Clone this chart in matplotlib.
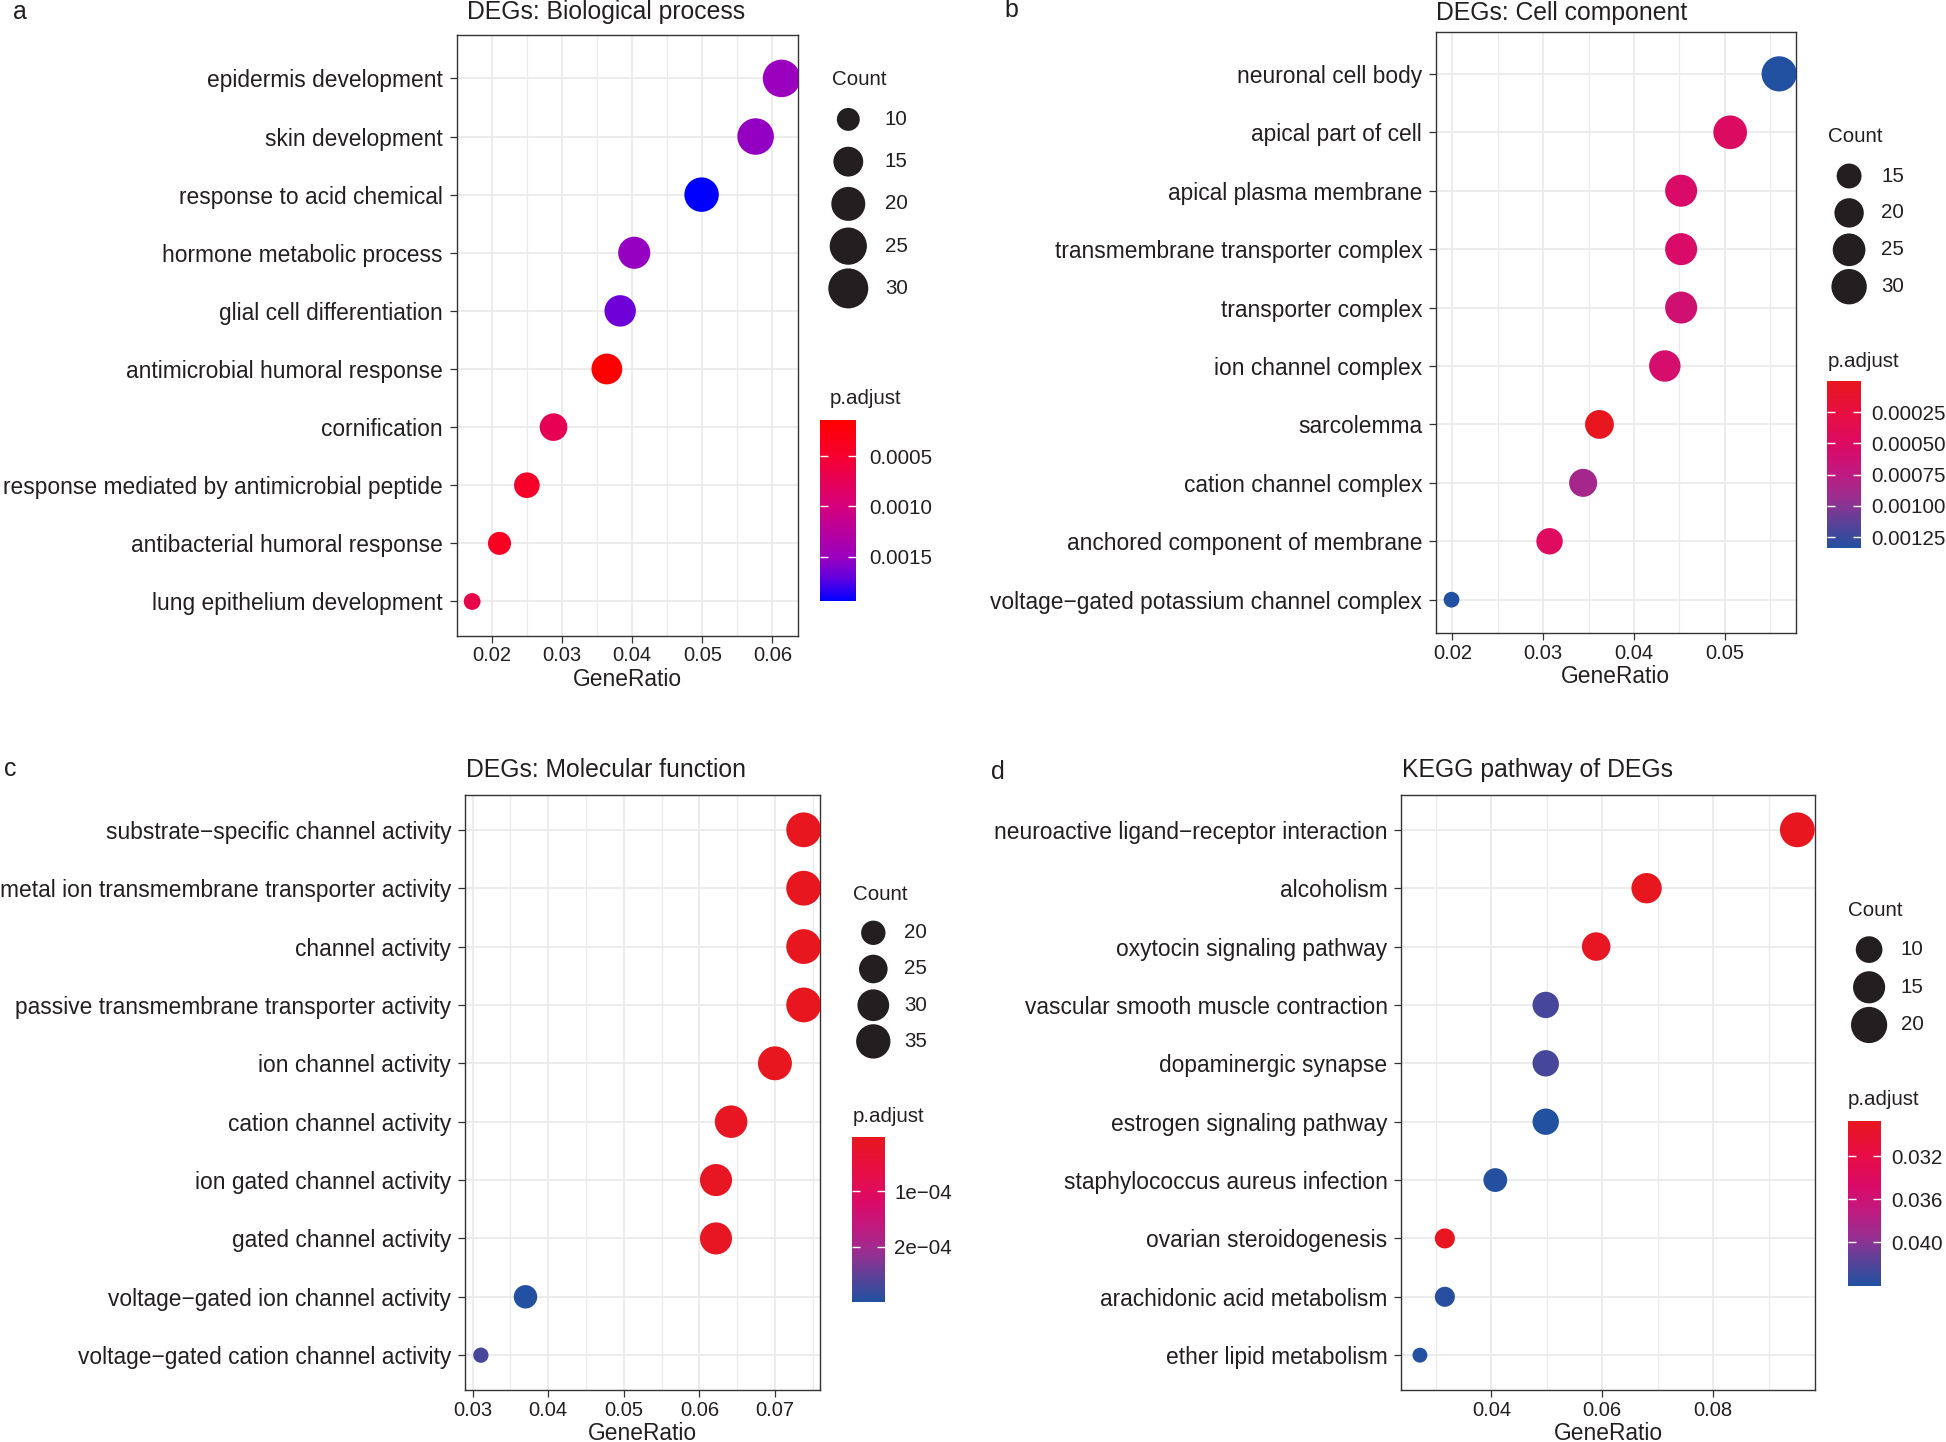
import numpy as np
import matplotlib
matplotlib.use("Agg")
import matplotlib.pyplot as plt
from matplotlib.colors import LinearSegmentedColormap, Normalize
from matplotlib.cm import ScalarMappable
from matplotlib.ticker import FormatStrFormatter

plt.rcParams['font.family'] = ['Liberation Sans', 'DejaVu Sans']

W, H, DPI = 1946, 1442, 100
INK = '#231F20'

# ---------------- data (terms listed top to bottom) ----------------
bp_terms = ["epidermis development", "skin development", "response to acid chemical",
            "hormone metabolic process", "glial cell differentiation",
            "antimicrobial humoral response", "cornification",
            "response mediated by antimicrobial peptide",
            "antibacterial humoral response", "lung epithelium development"]
bp_ratio = [0.0613, 0.0576, 0.0499, 0.0403, 0.0383, 0.0364, 0.0288, 0.0250, 0.0211, 0.0172]
bp_count = [31, 29, 25, 21, 20, 19, 15, 13, 11, 9]
bp_padj = [0.00151, 0.00153, 0.00194, 0.00152, 0.00167, 0.000138, 0.00073, 0.00046, 0.00040, 0.00068]

cc_terms = ["neuronal cell body", "apical part of cell", "apical plasma membrane",
            "transmembrane transporter complex", "transporter complex",
            "ion channel complex", "sarcolemma", "cation channel complex",
            "anchored component of membrane",
            "voltage\u2212gated potassium channel complex"]
cc_ratio = [0.0560, 0.0506, 0.0452, 0.0452, 0.0452, 0.0434, 0.0362, 0.0344, 0.0307, 0.0199]
cc_count = [31, 28, 25, 25, 25, 24, 20, 19, 17, 11]
cc_padj = [0.00134, 0.00049, 0.00054, 0.00054, 0.00061, 0.00058, 0.000003, 0.00087, 0.00047, 0.00133]

mf_terms = ["substrate\u2212specific channel activity",
            "metal ion transmembrane transporter activity", "channel activity",
            "passive transmembrane transporter activity", "ion channel activity",
            "cation channel activity", "ion gated channel activity",
            "gated channel activity", "voltage\u2212gated ion channel activity",
            "voltage\u2212gated cation channel activity"]
mf_ratio = [0.0738, 0.0738, 0.0738, 0.0738, 0.0700, 0.0642, 0.0622, 0.0622, 0.0370, 0.0311]
mf_count = [39, 39, 39, 39, 37, 34, 33, 33, 20, 16]
mf_padj = [2e-6, 2e-6, 2e-6, 2e-6, 4e-6, 8e-6, 9e-6, 9e-6, 3.0e-4, 2.7e-4]

kegg_terms = ["neuroactive ligand\u2212receptor interaction", "alcoholism",
              "oxytocin signaling pathway", "vascular smooth muscle contraction",
              "dopaminergic synapse", "estrogen signaling pathway",
              "staphylococcus aureus infection", "ovarian steroidogenesis",
              "arachidonic acid metabolism", "ether lipid metabolism"]
kegg_ratio = [0.0952, 0.0680, 0.0589, 0.0498, 0.0498, 0.0498, 0.0407, 0.0316, 0.0316, 0.0271]
kegg_count = [21, 15, 13, 11, 11, 11, 9, 7, 7, 6]
kegg_padj = [0.0287, 0.0288, 0.0290, 0.0425, 0.0425, 0.0439, 0.0438, 0.0289, 0.0437, 0.0440]

bp_breaks = [10, 15, 20, 25, 30]
cc_breaks = [15, 20, 25, 30]
mf_breaks = [20, 25, 30, 35]
kegg_breaks = [10, 15, 20]

bp_pticks = [0.0005, 0.0010, 0.0015]
bp_plabels = ["0.0005", "0.0010", "0.0015"]
cc_pticks = [0.00025, 0.00050, 0.00075, 0.00100, 0.00125]
cc_plabels = ["0.00025", "0.00050", "0.00075", "0.00100", "0.00125"]
mf_pticks = [1e-4, 2e-4]
mf_plabels = ["1e\u221204", "2e\u221204"]
kegg_pticks = [0.032, 0.036, 0.040]
kegg_plabels = ["0.032", "0.036", "0.040"]

# colour scales (low p.adjust = red, high = blue)
cmap_rb = LinearSegmentedColormap.from_list(
    'padj_rb', [(0, '#FF0000'), (0.2, '#F50030'), (0.48, '#D4007C'),
                (0.76, '#9A00BE'), (0.88, '#6000E0'), (1, '#0000FF')])
cmap_set = LinearSegmentedColormap.from_list(
    'padj_set', [(0, '#E8161E'), (0.2, '#E80E44'), (0.4, '#DA0A68'), (0.55, '#C01A80'),
                 (0.7, '#9A2E90'), (0.85, '#5A4298'), (1, '#2151A0')])


def fbox(l, t, r, b):
    return [l / W, 1 - b / H, (r - l) / W, (b - t) / H]


def diam(c, cmin, cmax, d0, d1):
    c = np.asarray(c, dtype=float)
    return d0 + (d1 - d0) * np.sqrt((c - cmin) / (cmax - cmin))


def px2pt(d):
    return np.asarray(d) * 72 / DPI


panels = [
    dict(letter='a', letter_xy=(13, 12), title="DEGs: Biological process", title_xy=(467, 12),
         terms=bp_terms, ratio=bp_ratio, count=bp_count, padj=bp_padj, cmap=cmap_rb,
         breaks=bp_breaks, pticks=bp_pticks, plabels=bp_plabels,
         box=(456.7, 35.4, 797.7, 636), xlim=(0.0150, 0.0636), ylim=(0.406, 10.74),
         major=[0.02, 0.03, 0.04, 0.05, 0.06], minor=[0.025, 0.035, 0.045, 0.055],
         size=(16.8, 37.5, 1.08),
         count_title=(831.7, 79.6), key_x=848.3, text_x=885, key_y=119.4, key_step=42.25,
         ptitle=(829.3, 398.9), cbar=(820, 420.2, 855.7, 600.6), clabel_x=870),
    dict(letter='b', letter_xy=(1004, 10), title="DEGs: Cell component", title_xy=(1436, 13),
         terms=cc_terms, ratio=cc_ratio, count=cc_count, padj=cc_padj, cmap=cmap_set,
         breaks=cc_breaks, pticks=cc_pticks, plabels=cc_plabels,
         box=(1436.1, 31.8, 1795.5, 633.3), xlim=(0.0182, 0.0578), ylim=(0.425, 10.72),
         major=[0.02, 0.03, 0.04, 0.05], minor=[0.025, 0.035, 0.045, 0.055],
         size=(15.75, 35.2, 1.02),
         count_title=(1827.7, 137), key_x=1849.1, text_x=1881.3, key_y=176, key_step=36.9,
         ptitle=(1827.7, 361.8), cbar=(1827, 381.2, 1861, 548.4), clabel_x=1871.8),
    dict(letter='c', letter_xy=(4, 769), title="DEGs: Molecular function", title_xy=(466, 770),
         terms=mf_terms, ratio=mf_ratio, count=mf_count, padj=mf_padj, cmap=cmap_set,
         breaks=mf_breaks, pticks=mf_pticks, plabels=mf_plabels,
         box=(465, 794.8, 820.3, 1390.2), xlim=(0.0290, 0.0760), ylim=(0.4, 10.6),
         major=[0.03, 0.04, 0.05, 0.06, 0.07], minor=[0.035, 0.045, 0.055, 0.065, 0.075],
         size=(15.3, 34.8, 1.04),
         count_title=(852.7, 894.2), key_x=873.3, text_x=904, key_y=932.8, key_step=36.2,
         ptitle=(852.7, 1116), cbar=(852.3, 1136.9, 885.3, 1302.3), clabel_x=895),
    dict(letter='d', letter_xy=(991, 772), title="KEGG pathway of DEGs", title_xy=(1402.5, 770),
         terms=kegg_terms, ratio=kegg_ratio, count=kegg_count, padj=kegg_padj, cmap=cmap_set,
         breaks=kegg_breaks, pticks=kegg_pticks, plabels=kegg_plabels,
         box=(1401.4, 794.8, 1815.4, 1390.2), xlim=(0.02376, 0.09846), ylim=(0.4, 10.6),
         major=[0.04, 0.06, 0.08], minor=[0.03, 0.05, 0.07, 0.09],
         size=(14.9, 34.8, 1.06),
         count_title=(1848, 910.6), key_x=1869.1, text_x=1900.7, key_y=949.6, key_step=37.7,
         ptitle=(1848, 1099.2), cbar=(1848, 1120.5, 1881.1, 1285.5), clabel_x=1891.6),
]

fig = plt.figure(figsize=(W / DPI, H / DPI), dpi=DPI)
fs_leg = 14.8

# overlay in pixel units for titles, panel letters and the size legends
over = fig.add_axes([0, 0, 1, 1])
over.set_xlim(0, W)
over.set_ylim(H, 0)
over.axis('off')
over.set_zorder(5)

for p in panels:
    ax = fig.add_axes(fbox(*p['box']))
    n = len(p['terms'])
    ypos = np.arange(n, 0, -1)
    cmin, cmax = min(p['count']), max(p['count'])
    d0, d1, kscale = p['size']
    norm = Normalize(min(p['padj']), max(p['padj']))

    d = diam(p['count'], cmin, cmax, d0, d1)
    ax.scatter(p['ratio'], ypos, s=px2pt(d) ** 2, c=p['padj'], cmap=p['cmap'], norm=norm,
               linewidths=0, zorder=3)

    ax.set_yticks(ypos, p['terms'])
    ax.set_xticks(p['major'])
    ax.set_xticks(p['minor'], minor=True)
    ax.xaxis.set_major_formatter(FormatStrFormatter('%.2f'))
    ax.set_xlim(*p['xlim'])
    ax.set_ylim(*p['ylim'])

    ax.set_axisbelow(True)
    ax.grid(which='major', color='#EBEBEB', lw=1.3)
    ax.grid(which='minor', axis='x', color='#EBEBEB', lw=1.0)
    for s in ax.spines.values():
        s.set_color('#333333')
        s.set_linewidth(1.0)
    ax.tick_params(axis='both', which='major', length=5, width=0.9, color='#333333',
                   labelcolor=INK)
    ax.tick_params(axis='y', labelsize=16.4, pad=5)
    ax.tick_params(axis='x', labelsize=14.5, pad=2.5)
    ax.tick_params(which='minor', length=0)
    ax.set_xlabel('GeneRatio', fontsize=16.4, color=INK, labelpad=2)

    # size legend (Count)
    over.text(*p['count_title'], 'Count', ha='left', va='center', fontsize=fs_leg, color=INK)
    ky = p['key_y'] + p['key_step'] * np.arange(len(p['breaks']))
    kd = diam(p['breaks'], cmin, cmax, d0, d1) * kscale
    over.scatter(np.full(len(ky), p['key_x']), ky, s=px2pt(kd) ** 2, color=INK, linewidths=0)
    for v, y in zip(p['breaks'], ky):
        over.text(p['text_x'], y, str(v), ha='left', va='center', fontsize=fs_leg, color=INK)

    # colour bar (p.adjust)
    over.text(*p['ptitle'], 'p.adjust', ha='left', va='center', fontsize=fs_leg, color=INK)
    cax = fig.add_axes(fbox(*p['cbar']))
    cb = fig.colorbar(ScalarMappable(norm=norm, cmap=p['cmap']), cax=cax)
    cb.outline.set_visible(False)
    cb.minorticks_off()
    cax.invert_yaxis()
    cb.set_ticks(p['pticks'], labels=p['plabels'])
    cpad = (p['clabel_x'] - p['cbar'][2]) * 72 / DPI - 0.5
    cax.tick_params(axis='y', which='major', direction='in', left=True, right=True, length=6,
                    width=1.0, color='white', labelsize=fs_leg, labelcolor=INK, pad=cpad)

    over.text(*p['title_xy'], p['title'], ha='left', va='center', fontsize=17.8, color=INK)
    over.text(*p['letter_xy'], p['letter'], ha='left', va='center', fontsize=18, color=INK)

fig.savefig('out.png', dpi=DPI)
